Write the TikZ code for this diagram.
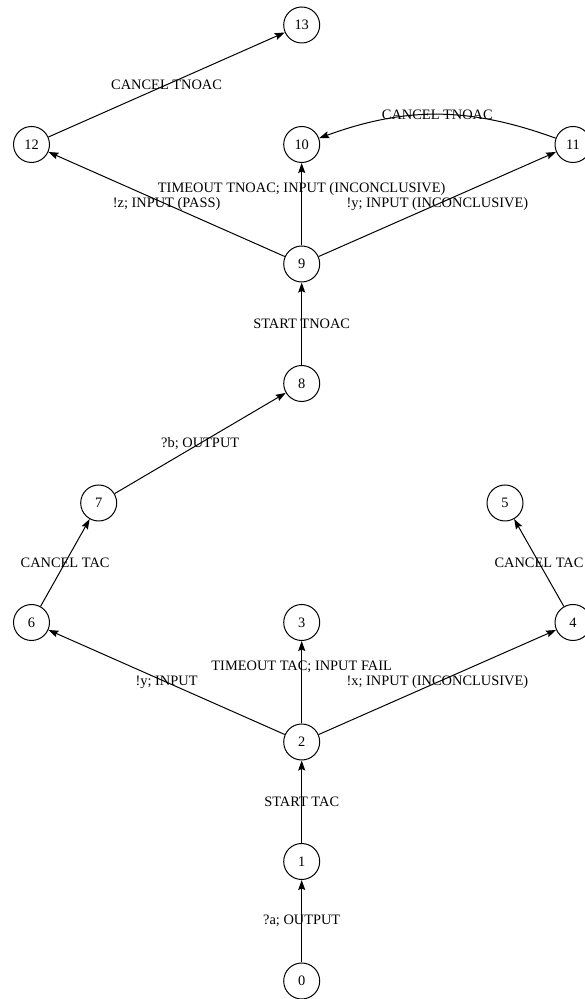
\documentclass[tikz,border=0pt]{standalone}
\usepackage{fontspec}
\setmainfont{Liberation Serif}
\usetikzlibrary{arrows.meta}
\tikzset{
  stato/.style={circle, draw, line width=1pt, minimum size=36pt, inner sep=0pt},
  trans/.style={-{Stealth[length=10pt,width=7pt,inset=1.5pt]}, line width=1pt},
}
\begin{document}
\begin{tikzpicture}[x=1pt, y=1pt, font=\fontsize{14.4}{16}\selectfont]
	\useasboundingbox (0,0) rectangle (585,999);
	% stati
	\node[stato] (s0) at (301.7, 18) {0};
	\node[stato] (s1) at (301.7, 137.5) {1};
	\node[stato] (s2) at (301.7, 257) {2};
	\node[stato] (s3) at (301.7, 376.5) {3};
	\node[stato] (s4) at (573, 376.5) {4};
	\node[stato] (s5) at (505, 496) {5};
	\node[stato] (s6) at (31.5, 376.5) {6};
	\node[stato] (s7) at (98.7, 496) {7};
	\node[stato] (s8) at (301.7, 615.5) {8};
	\node[stato] (s9) at (301.7, 735) {9};
	\node[stato] (s10) at (301.7, 854.5) {10};
	\node[stato] (s11) at (573, 854.5) {11};
	\node[stato] (s12) at (31.5, 854.5) {12};
	\node[stato] (s13) at (301.7, 974) {13};
	% transizioni TAC
	\draw[trans] (s0) -- node {?a; OUTPUT} (s1);
	\draw[trans] (s1) -- node {START TAC} (s2);
	\draw[trans] (s2) -- node[yshift=15pt] {TIMEOUT TAC; INPUT FAIL} (s3);
	\draw[trans] (s2) -- node {!x; INPUT (INCONCLUSIVE)} (s4);
	\draw[trans] (s2) -- node {!y; INPUT} (s6);
	\draw[trans] (s4) -- node {CANCEL TAC} (s5);
	\draw[trans] (s6) -- node {CANCEL TAC} (s7);
	\draw[trans] (s7) -- node {?b; OUTPUT} (s8);
	% transizioni TNOAC
	\draw[trans] (s8) -- node {START TNOAC} (s9);
	\draw[trans] (s9) -- node[yshift=15pt] {TIMEOUT TNOAC; INPUT (INCONCLUSIVE)} (s10);
	\draw[trans] (s9) -- node {!y; INPUT (INCONCLUSIVE)} (s11);
	\draw[trans] (s9) -- node {!z; INPUT (PASS)} (s12);
	\draw[trans] (s11) to[bend right=20] node {CANCEL TNOAC} (s10);
	\draw[trans] (s12) -- node {CANCEL TNOAC} (s13);
\end{tikzpicture}
\end{document}
